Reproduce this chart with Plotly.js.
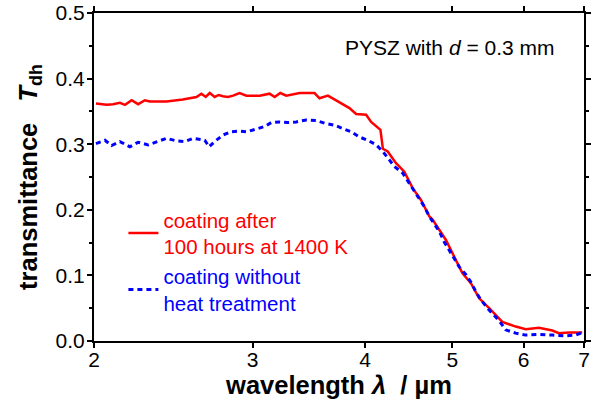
<!DOCTYPE html>
<html>
<head>
<meta charset="utf-8">
<script src="https://cdn.plot.ly/plotly-3.0.1.min.js"></script>
<style>html,body{margin:0;padding:0;background:#fff;}#chart{width:597px;height:410px;}</style>
</head>
<body>
<div id="chart"></div>
<script>
// wavelength (µm) and transmittance for the coating after 100 h at 1400 K
var redWavelength = [2.01, 2.066, 2.099, 2.137, 2.165, 2.202, 2.239, 2.278, 2.307, 2.408, 2.51, 2.599, 2.632, 2.661, 2.689, 2.723, 2.751, 2.781, 2.817, 2.854, 2.902, 2.953, 3.055, 3.133, 3.174, 3.22, 3.27, 3.383, 3.515, 3.56, 3.637, 3.762, 3.843, 3.909, 4.01, 4.062, 4.149, 4.16, 4.186, 4.238, 4.329, 4.422, 4.517, 4.614, 4.713, 4.753, 4.918, 5.002, 5.131, 5.242, 5.355, 5.493, 5.681, 5.879, 6.031, 6.24, 6.455, 6.566, 6.736, 6.968];
var redTransmittance = [0.362, 0.360, 0.361, 0.363, 0.360, 0.367, 0.361, 0.367, 0.365, 0.365, 0.368, 0.372, 0.377, 0.372, 0.378, 0.372, 0.375, 0.373, 0.372, 0.374, 0.378, 0.374, 0.374, 0.377, 0.372, 0.378, 0.374, 0.378, 0.378, 0.370, 0.374, 0.362, 0.355, 0.346, 0.345, 0.334, 0.324, 0.322, 0.293, 0.289, 0.271, 0.258, 0.233, 0.215, 0.190, 0.185, 0.154, 0.134, 0.103, 0.088, 0.065, 0.050, 0.029, 0.022, 0.018, 0.020, 0.016, 0.012, 0.013, 0.013];

// wavelength (µm) and transmittance for the coating without heat treatment
var blueWavelength = [2.01, 2.057, 2.092, 2.137, 2.192, 2.239, 2.297, 2.347, 2.408, 2.47, 2.523, 2.577, 2.655, 2.684, 2.723, 2.781, 2.842, 2.902, 2.953, 3.029, 3.094, 3.147, 3.214, 3.283, 3.354, 3.441, 3.53, 3.606, 3.698, 3.777, 3.859, 3.942, 4.027, 4.115, 4.184, 4.256, 4.311, 4.403, 4.479, 4.575, 4.653, 4.713, 4.773, 4.835, 4.897, 4.96, 5.024, 5.088, 5.176, 5.242, 5.309, 5.377, 5.469, 5.563, 5.634, 5.731, 5.879, 6.031, 6.24, 6.455, 6.679, 6.852, 6.968];
var blueTransmittance = [0.301, 0.306, 0.298, 0.304, 0.296, 0.303, 0.299, 0.304, 0.309, 0.305, 0.304, 0.309, 0.306, 0.296, 0.304, 0.314, 0.319, 0.320, 0.319, 0.323, 0.327, 0.333, 0.334, 0.333, 0.334, 0.337, 0.336, 0.332, 0.329, 0.324, 0.319, 0.311, 0.306, 0.299, 0.289, 0.276, 0.266, 0.256, 0.240, 0.220, 0.205, 0.190, 0.179, 0.167, 0.151, 0.139, 0.125, 0.113, 0.101, 0.090, 0.075, 0.063, 0.050, 0.040, 0.031, 0.017, 0.012, 0.009, 0.010, 0.009, 0.008, 0.009, 0.013];

var xTickValues = [2, 3, 4, 5, 6, 7];
var xTickLabels = ['2', '3', '4', '5', '6', '7'];
var yTickValues = [0.0, 0.1, 0.2, 0.3, 0.4, 0.5];
var yTickLabels = ['0.0', '0.1', '0.2', '0.3', '0.4', '0.5'];

var redName = '<span style="color:#ff0000">coating after</span><br><span style="color:#ff0000">100 hours at 1400 K</span>';
var blueName = '<span style="color:#0000ff">coating without</span><br><span style="color:#0000ff">heat treatment</span>';

var FONT = 'Arial, "Liberation Sans", sans-serif';

var traces = [
  {x: redWavelength, y: redTransmittance, type: 'scatter', mode: 'lines', name: redName,
   line: {color: '#ff0000', width: 2.5}},
  {x: blueWavelength, y: blueTransmittance, type: 'scatter', mode: 'lines', name: blueName,
   line: {color: '#0000ff', width: 3, dash: '5px,4px'}}
];

var layout = {
  width: 597, height: 410,
  margin: {l: 94, r: 13, t: 13, b: 69},
  paper_bgcolor: '#ffffff', plot_bgcolor: '#ffffff',
  font: {family: FONT, size: 20, color: '#000'},
  showlegend: true,
  legend: {x: 0.06, y: 0.43, xanchor: 'left', yanchor: 'top', bgcolor: 'rgba(0,0,0,0)',
           font: {family: FONT, size: 20.5}, itemwidth: 30, tracegroupgap: 4},
  xaxis: {
    type: 'log', range: [Math.log10(2), Math.log10(7)],
    tickvals: xTickValues, ticktext: xTickLabels,
    showgrid: false, zeroline: false,
    showline: true, linecolor: '#000', linewidth: 2, mirror: 'ticks',
    ticks: 'outside', ticklen: 5, tickwidth: 2, tickcolor: '#000',
    tickfont: {family: FONT, size: 21}, ticklabelstandoff: -6,
    title: {text: 'wavelength <i>λ</i>\u00a0\u00a0/ µm', font: {family: FONT, size: 25.5, weight: 'bold'}, standoff: 4}
  },
  yaxis: {
    range: [0, 0.5],
    tickvals: yTickValues, ticktext: yTickLabels,
    showgrid: false, zeroline: false,
    showline: true, linecolor: '#000', linewidth: 2, mirror: 'ticks',
    ticks: 'outside', ticklen: 5, tickwidth: 2, tickcolor: '#000',
    minor: {dtick: 0.05, ticks: 'outside', ticklen: 3, tickwidth: 2, tickcolor: '#000', showgrid: false},
    tickfont: {family: FONT, size: 21}, ticklabelstandoff: -2,
    title: {text: 'transmittance\u00a0\u00a0 <i>T</i><sub>dh</sub>', font: {family: FONT, size: 25.5, weight: 'bold'}, standoff: 11}
  },
  annotations: [
    {xref: 'paper', yref: 'paper', x: 0.727, y: 0.895, xanchor: 'center', yanchor: 'middle',
     text: 'PYSZ with <i>d</i> = 0.3 mm', showarrow: false, font: {family: FONT, size: 21, color: '#000'}}
  ]
};

Plotly.newPlot('chart', traces, layout, {displayModeBar: false, staticPlot: true});
</script>
</body>
</html>
